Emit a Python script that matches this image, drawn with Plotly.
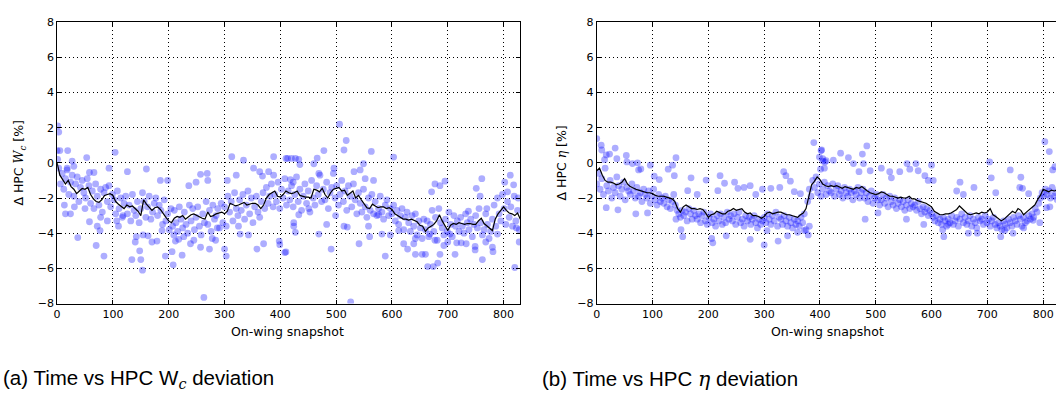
import plotly.graph_objects as go

W, H = 1056, 394

# ---------------- data: (a) HPC Wc deviation ----------------
a_line_x = list(range(0, 831, 5))
a_line_y = [0.0, -0.7, -0.95, -1.2, -1.0, -1.35, -1.5, -1.75, -1.6, -1.45,
            -1.5, -1.4, -1.8, -2.05, -2.2, -2.25, -2.1, -1.85, -1.8, -1.75,
            -1.85, -2.2, -2.35, -2.45, -2.6, -2.4, -2.5, -2.45, -2.6, -2.75,
            -3.0, -2.1, -2.35, -2.5, -2.7, -2.55, -2.5, -2.65, -2.9, -3.1,
            -3.3, -3.4, -3.15, -3.05, -3.1, -3.0, -3.2, -3.05, -2.95, -2.9,
            -3.0, -3.1, -3.15, -3.2, -2.8, -3.05, -3.0, -2.9, -2.85, -2.8,
            -2.9, -2.75, -2.3, -2.4, -2.45, -2.4, -2.3, -2.25, -2.4, -2.35,
            -2.3, -2.3, -2.4, -2.6, -2.4, -2.0, -1.8, -1.7, -1.6, -1.9,
            -1.95, -1.8, -1.6, -1.7, -1.75, -1.7, -1.6, -1.85, -1.9, -1.95,
            -1.95, -2.0, -1.5, -1.55, -1.65, -1.45, -1.8, -2.0, -1.7, -1.5,
            -1.45, -1.4, -1.6, -1.55, -1.85, -1.7, -1.6, -2.0, -1.85, -2.1,
            -2.3, -2.55, -2.6, -2.35, -2.45, -2.55, -2.5, -2.5, -2.6, -2.55,
            -2.65, -2.9, -3.0, -3.1, -3.2, -3.2, -3.25, -3.2, -3.3, -3.35,
            -3.55, -3.6, -3.9, -3.7, -3.6, -3.5, -3.3, -2.95, -3.3, -3.6,
            -3.85, -3.55, -3.45, -3.5, -3.4, -3.45, -3.5, -3.45, -3.45, -3.5,
            -3.5, -3.3, -3.15, -3.45, -3.6, -3.75, -3.85, -3.2, -2.9, -2.7,
            -2.5, -2.7, -2.85, -2.9, -3.0, -2.85, -3.2]

a_pts_x = list(range(0, 829, 3))
a_pts_y = [0.7, -0.3, -1.2, -0.6, -1.5, -0.9, -0.4, -1.8, -1.1, -0.7,
           -1.9, -1.2, -0.8, -2.2, -1.4, -1.0, -1.7, -2.0, -0.9, -1.3,
           -2.3, -1.6, -2.6, -1.2, -1.9, -2.4, -1.5, -2.8, -1.7, -1.4,
           -2.2, -1.3, -2.5, -1.8, -2.1, -2.9, -1.6, -2.6, -2.0, -3.1,
           -2.3, -1.9, -2.9, -2.4, -3.3, -1.8, -2.7, -3.0, -2.2, -3.4,
           -2.6, -1.7, -2.2, -3.1, -2.5, -1.9, -3.2, -2.8, -2.3, -2.0,
           -3.0, -2.4, -2.7, -3.5, -2.1, -3.3, -2.9, -3.8, -2.6, -3.6,
           -2.7, -3.4, -3.9, -2.5, -3.2, -3.7, -2.8, -3.5, -4.0, -2.4,
           -3.3, -2.6, -3.8, -3.1, -2.5, -3.6, -4.1, -2.9, -3.4, -2.2,
           -3.5, -2.7, -3.9, -2.4, -3.2, -3.0, -2.6, -3.7, -2.3, -3.4,
           -2.5, -3.6, -1.9, -2.8, -2.2, -3.3, -1.7, -2.6, -3.0, -2.1,
           -2.7, -1.8, -3.2, -2.4, -1.6, -2.9, -2.0, -3.4, -2.5, -1.9,
           -2.8, -3.1, -2.2, -1.7, -2.6, -1.4, -2.3, -1.9, -1.2, -2.5,
           -1.8, -2.2, -1.1, -2.6, -1.5, -2.0, -0.9, -2.4, -1.6, -2.1,
           -1.3, -2.5, -1.8, -0.8, -2.2, -1.5, -2.7, -1.9, -1.2, -2.3,
           -1.6, -2.8, -1.0, -2.0, -2.4, -1.3, -1.8, -0.7, -2.2, -1.5,
           -2.1, -1.1, -2.6, -1.7, -1.4, -0.6, -2.0, -1.3, -2.4, -1.8,
           -1.0, -2.2, -1.6, -2.7, -1.3, -1.9, -2.5, -1.2, -2.1, -2.9,
           -1.7, -2.3, -2.8, -1.5, -2.5, -3.1, -2.0, -2.7, -1.8, -2.9,
           -2.2, -3.0, -2.6, -1.9, -2.8, -3.2, -2.4, -2.1, -3.0, -2.6,
           -2.9, -2.4, -3.3, -2.7, -3.5, -3.0, -2.6, -3.8, -3.1, -2.8,
           -3.4, -3.9, -3.0, -3.6, -2.9, -4.1, -3.3, -3.7, -4.3, -3.2,
           -3.8, -3.3, -4.2, -3.5, -2.7, -3.9, -3.1, -4.4, -2.6, -3.4,
           -3.7, -4.1, -3.2, -3.9, -2.8, -3.5, -4.2, -3.0, -3.6, -3.3,
           -3.9, -3.1, -3.6, -4.0, -2.9, -3.4, -3.8, -3.2, -4.2, -3.5,
           -3.0, -3.7, -2.6, -3.4, -4.1, -3.8, -2.9, -3.5, -4.3, -3.9,
           -3.2, -2.4, -3.6, -2.0, -2.9, -3.3, -1.8, -2.6, -3.5, -2.2,
           -3.1, -2.5, -3.6, -1.9, -3.3, -2.7, -3.8]

a_out_x = [1, 3, 5, 19, 1, 27, 53, 104, 58, 66, 18, 30, 13, 15, 24, 31, 37, 50, 58, 70,
           72, 77, 84, 78, 90, 93, 107, 110, 118, 126, 140, 134, 142, 150, 148, 153, 154, 160, 163, 170,
           179, 188, 194, 185, 198, 206, 208, 209, 212, 218, 224, 227, 236, 239, 245, 249, 257, 257, 263, 269,
           270, 273, 278, 284, 287, 300, 303, 305, 313, 321, 325, 328, 334, 343, 352, 358, 363, 368, 370, 379,
           388, 388, 398, 399, 408, 410, 420, 424, 423,
           506, 518, 514, 563, 478, 603, 549, 413, 427, 433, 435, 460, 466, 469, 418, 496, 532, 543, 552, 567,
           410, 427, 424, 433, 451, 469, 483, 491, 499, 514, 520, 526, 541, 558, 560, 576, 582, 588, 597, 612,
           621, 628, 639, 642, 642, 654, 660, 664, 674, 682, 668, 677, 686, 693, 695, 686, 677, 671, 700, 704,
           713, 716, 724, 733, 737, 749, 749, 751, 758, 761, 762, 770, 768, 780, 781, 789, 802, 807, 812, 818,
           820, 828, 823, 826]
a_out_y = [2.1, 1.75, 0.7, 0.7, 0.2, 0.1, 0.3, 0.6, -0.55, -0.55, -0.3, -0.2, -2.4, -2.9, -2.9, -2.5, -4.25, -2.6, -3.35, -4.7,
           -3.6, -3.85, -5.3, -3.1, -3.3, -0.3, -3.3, -3.6, -3.0, -0.5, -4.5, -5.5, -4.2, -5.5, -5.0, -6.1, -4.1, -0.35, -4.15, -4.5,
           -4.45, -3.85, -5.3, -1.0, -1.0, -5.05, -5.8, -4.1, -4.45, -4.35, -5.25, -4.2, -1.3, -4.6, -4.4, -1.1, -0.65, -4.8, -7.65, -0.6,
           -1.0, -4.9, -4.3, -4.4, -3.7, -4.9, -5.3, -1.0, 0.35, -0.7, -3.6, -4.05, 0.15, -4.1, -0.3, -4.9, -0.5, -0.75, -4.6, -0.5,
           0.35, -0.7, -4.45, -4.65, -5.1, 0.25, 0.25, -3.6, -1.1,
           2.2, 1.27, 0.73, 0.65, 0.7, 0.33, -0.05, 0.25, 0.25, 0.2, -0.1, -0.05, 0.27, -0.6, -0.95, -0.3, -0.5, -0.4, -0.9, -1.0,
           -5.07, -3.95, -3.4, -2.95, -2.6, -4.05, -3.5, -4.9, -3.0, -3.6, -3.65, -7.9, -4.6, -3.6, -4.2, -2.95, -4.05, -5.3, -4.1, -3.85,
           -4.6, -4.9, -4.6, -4.3, -5.2, -5.2, -5.2, -5.9, -5.9, -5.7, -4.05, -4.4, -5.2, -4.7, -1.04, -1.3, -1.2, -1.65, -4.5, -4.05,
           -5.2, -4.55, -4.55, -4.6, -2.75, -4.75, -4.95, -1.45, -1.9, -0.9, -5.5, -2.6, -4.5, -4.8, -5.05, -4.05, -1.1, -1.65, -0.7, -1.25,
           -5.95, -4.5, -3.7, -2.0]

# ---------------- data: (b) HPC eta deviation ----------------
b_line_x = list(range(0, 831, 5))
b_line_y = [-0.45, -0.3, -0.7, -1.0, -1.1, -1.1, -1.15, -1.25, -1.2, -1.1,
            -0.9, -1.2, -1.35, -1.45, -1.5, -1.55, -1.6, -1.65, -1.7, -1.7,
            -1.75, -1.85, -1.9, -1.9, -1.9, -1.95, -2.0, -2.05, -2.2, -2.6,
            -2.8, -2.5, -2.4, -2.5, -2.6, -2.6, -2.65, -2.6, -2.65, -2.85,
            -3.1, -2.95, -2.9, -2.75, -2.85, -2.9, -2.9, -2.75, -2.7, -2.6,
            -2.7, -2.65, -2.6, -2.8, -2.9, -2.85, -3.0, -3.0, -3.05, -3.15,
            -3.05, -2.85, -2.8, -2.9, -2.85, -2.8, -2.8, -2.9, -2.95, -2.95,
            -3.0, -3.05, -3.1, -2.95, -2.85, -2.6, -1.9, -1.25, -1.05, -0.8,
            -0.95, -1.2, -1.3, -1.35, -1.3, -1.35, -1.3, -1.4, -1.45, -1.35,
            -1.4, -1.45, -1.5, -1.4, -1.45, -1.35, -1.5, -1.6, -1.7, -1.75,
            -1.8, -1.75, -1.65, -1.7, -1.8, -1.9, -1.9, -1.95, -2.0, -1.95,
            -2.0, -2.0, -1.9, -2.05, -2.05, -2.15, -2.2, -2.25, -2.3, -2.4,
            -2.5, -2.75, -2.85, -2.95, -2.95, -2.9, -2.9, -2.85, -2.75, -2.65,
            -2.45, -2.6, -2.8, -2.9, -2.95, -2.9, -2.85, -2.9, -2.8, -2.85,
            -2.8, -2.6, -2.95, -3.05, -3.15, -3.3, -3.2, -3.05, -2.9, -2.75,
            -2.85, -2.6, -2.7, -2.95, -2.8, -2.65, -2.55, -2.4, -2.1, -1.85,
            -1.5, -1.6, -1.65, -1.55, -1.6, -1.55, -1.6]

b_pts_x = list(range(0, 829, 3))
b_pts_y = [-1.2, -0.6, -1.5, -0.9, -1.8, -0.3, -1.3, -1.6, -1.0, -2.0,
           -1.4, -1.7, -0.8, -1.3, -1.9, -1.5, -1.1, -2.1, -1.4, -1.6,
           -1.8, -1.2, -1.6, -2.0, -1.4, -1.9, -1.7, -2.2, -1.5, -1.8,
           -2.0, -1.6, -2.3, -1.9, -1.5, -2.1, -2.4, -1.8, -2.2, -2.0,
           -2.3, -1.9, -2.5, -2.1, -2.6, -2.2, -1.8, -2.4, -2.7, -2.9,
           -3.1, -2.7, -3.0, -2.8, -3.3, -2.6, -2.9, -3.2, -2.7, -3.0,
           -3.2, -2.9, -3.4, -3.0, -2.8, -3.3, -3.5, -3.1, -2.9, -3.4,
           -3.2, -3.6, -3.0, -3.3, -2.9, -3.5, -3.1, -3.4, -2.8, -3.2,
           -3.0, -3.3, -2.9, -3.5, -3.1, -2.8, -3.4, -3.2, -3.6, -3.0,
           -3.3, -3.1, -3.5, -3.2, -3.0, -3.4, -3.7, -3.2, -3.5, -3.3,
           -3.1, -3.4, -2.9, -3.2, -3.5, -3.0, -3.3, -2.8, -3.6, -3.1,
           -3.2, -3.5, -3.0, -3.3, -3.6, -3.1, -3.4, -3.7, -3.2, -3.5,
           -3.3, -3.6, -3.1, -3.4, -2.9, -3.8, -2.2, -1.5, -1.9, -1.0,
           -1.4, -0.8, -1.7, -1.2, -1.9, -1.5, -1.1, -1.8, -1.3, -1.6,
           -1.7, -1.2, -1.9, -1.5, -1.3, -1.8, -1.6, -2.0, -1.4, -1.7,
           -1.9, -1.5, -1.7, -2.1, -1.6, -1.8, -1.4, -2.0, -1.7, -1.5,
           -2.0, -1.7, -2.2, -1.9, -1.6, -2.3, -2.0, -1.8, -2.1, -2.4,
           -2.1, -1.8, -2.3, -2.0, -2.5, -1.9, -2.2, -2.4, -2.0, -2.6,
           -2.3, -2.1, -2.5, -2.2, -2.7, -2.4, -2.1, -2.6, -2.3, -2.5,
           -2.4, -2.7, -2.2, -2.6, -2.9, -2.5, -2.8, -2.6, -3.0, -2.7,
           -2.9, -3.1, -3.3, -3.0, -3.4, -3.2, -3.5, -3.1, -3.3, -3.6,
           -3.2, -3.4, -3.0, -3.5, -3.3, -3.1, -3.6, -3.2, -2.9, -3.4,
           -3.1, -3.5, -3.3, -3.0, -3.6, -3.2, -3.4, -3.7, -3.1, -3.3,
           -3.2, -3.5, -3.0, -3.4, -3.2, -3.6, -3.3, -3.1, -3.5, -3.7,
           -3.4, -3.6, -3.8, -3.3, -3.5, -3.7, -3.2, -3.4, -3.6, -3.1,
           -3.3, -3.5, -3.0, -3.2, -3.6, -3.1, -3.4, -3.3, -3.0, -3.2,
           -2.9, -3.1, -2.6, -2.8, -2.3, -2.0, -1.7, -1.9, -1.5, -1.8,
           -1.6, -2.0, -1.4, -1.9, -1.7, -2.1, -1.5]

b_out_x = [0, 8, 9, 14, 17, 23, 33, 36, 53, 54, 64, 73, 75, 79, 96, 103, 112, 128, 136, 142,
           139, 169, 163, 180, 196, 217, 221, 229, 247, 253, 264, 275, 285, 297, 312, 328, 335, 339, 347, 354,
           365, 17, 38, 70, 91, 151, 154, 142, 206, 208, 232, 275, 300, 305, 325, 342, 360, 372, 379, 381,
           389, 399, 402, 405, 411, 408, 401,
           403, 405, 409, 424, 437, 451, 460, 476, 484, 478, 470, 490, 510, 525, 528, 543, 556, 561, 572, 576,
           600, 588, 594, 603, 481, 504, 555, 586, 620, 622, 630, 645, 651, 657, 676, 666, 682, 704, 707, 715,
           724, 731, 741, 746, 758, 760, 763, 765, 774, 782, 794, 803, 811, 817, 821, 812, 806]
b_out_y = [1.38, 1.0, 0.73, 0.18, 0.45, 0.5, 0.84, 0.24, 0.42, 0.05, -0.04, 0.0, -0.4, -0.35, -0.13, -0.76, -0.95, -0.36, -0.13, 0.29,
           -0.73, -0.85, -1.58, -1.8, -0.98, -1.58, -0.73, -1.16, -1.1, -1.45, -1.4, -1.3, -1.8, -1.5, -1.45, -1.4, -0.5, -0.73, -1.04, -1.64,
           -1.75, -2.55, -2.67, -2.9, -2.85, -3.8, -4.2, -3.2, -4.3, -4.55, -4.15, -4.35, -4.67, -3.85, -4.45, -4.15, -3.95, -3.85, -4.1, -3.6,
           1.15, 0.33, 0.7, 0.1, 0.12, -0.3, -0.36,
           0.73, 0.24, 0.05, 0.15, 0.55, 0.3, -0.04, 0.5, 0.96, -0.04, -0.5, -0.45, -0.3, -0.5, -0.85, -0.5, -0.04, -0.36, -0.04, -0.45,
           -0.13, -0.73, -1.0, -1.0, -3.2, -2.85, -3.2, -3.5, -3.8, -4.2, -3.5, -1.6, -1.1, -1.8, -1.4, -4.0, -4.0, 0.05, -0.85, -1.7,
           -4.2, -3.85, -0.4, -4.0, -1.4, -0.82, -1.45, -3.7, -1.75, -3.27, -3.4, 1.2, 0.64, -0.4, -0.22, -2.5, -2.55]

x_ticks = [0, 100, 200, 300, 400, 500, 600, 700, 800]
y_ticks = [-8, -6, -4, -2, 0, 2, 4, 6, 8]

# ---------------- figure ----------------
pt_color = "rgba(0,0,255,0.32)"
fig = go.Figure()

def add_panel(xs, ys, ox, oy, lx, ly, xa, ya):
    fig.add_trace(go.Scatter(x=xs + ox, y=ys + oy, mode="markers",
                             marker=dict(size=6.8, color=pt_color, line=dict(width=0)),
                             xaxis=xa, yaxis=ya, showlegend=False, hoverinfo="skip"))
    fig.add_trace(go.Scatter(x=lx, y=ly, mode="lines",
                             line=dict(color="black", width=1.2),
                             xaxis=xa, yaxis=ya, showlegend=False))

add_panel(a_pts_x, a_pts_y, a_out_x, a_out_y, a_line_x, a_line_y, "x", "y")
add_panel(b_pts_x, b_pts_y, b_out_x, b_out_y, b_line_x, b_line_y, "x2", "y2")

tickfont = dict(family="DejaVu Sans", size=11, color="black")
y_top = 1 - 16.7 / H
y_bot = 1 - 307.7 / H

common_x = dict(tickvals=x_ticks, ticks="inside", ticklen=4, tickcolor="black",
                showline=True, linecolor="black", linewidth=1, mirror="ticks",
                showgrid=True, gridcolor="black", gridwidth=1, griddash="1px,3px",
                zeroline=False, tickfont=tickfont)
common_y = dict(tickvals=y_ticks, range=[-8, 8], ticks="inside", ticklen=4, tickcolor="black",
                showline=True, linecolor="black", linewidth=1,
                showgrid=True, gridcolor="black", gridwidth=1, griddash="1px,3px",
                zeroline=False, tickfont=tickfont)

fig.update_layout(
    width=W, height=H, margin=dict(l=0, r=0, t=0, b=0),
    paper_bgcolor="white", plot_bgcolor="white",
    xaxis=dict(domain=[53.3 / W, 518.3 / W], range=[0, 830], anchor="y", **common_x),
    yaxis=dict(domain=[y_bot, y_top], anchor="x", mirror="ticks", **common_y),
    xaxis2=dict(domain=[595.0 / W, 1.0], range=[0, 823], anchor="y2", **common_x),
    yaxis2=dict(domain=[y_bot, y_top], anchor="x2", mirror=False, **common_y),
)

lab = dict(family="DejaVu Sans", size=12.5, color="black")
cap = dict(family="Liberation Sans", size=20.5, color="black")
ann = [
    dict(text="On-wing snapshot", x=285 / W, y=1 - 337 / H, font=lab),
    dict(text="On-wing snapshot", x=827 / W, y=1 - 337 / H, font=lab),
    dict(text="Δ HPC <span style='font-family:DejaVu Serif'><i>W<sub>c</sub></i></span> [%]",
         x=16 / W, y=1 - 162 / H, textangle=-90, font=lab),
    dict(text="Δ HPC <span style='font-family:DejaVu Serif'><i>η</i></span> [%]",
         x=560 / W, y=1 - 162 / H, textangle=-90, font=lab),
]
for a in ann:
    fig.add_annotation(xref="paper", yref="paper", showarrow=False,
                       xanchor="center", yanchor="middle", **a)

fig.add_annotation(xref="paper", yref="paper", showarrow=False, xanchor="left", yanchor="middle",
                   x=-3 / W, y=1 - 386 / H, font=cap,
                   text="(a) Time vs HPC W<sub><span style='font-family:DejaVu Serif'><i>c</i></span></sub> deviation")
fig.add_annotation(xref="paper", yref="paper", showarrow=False, xanchor="left", yanchor="middle",
                   x=538 / W, y=1 - 386 / H, font=cap,
                   text="(b) Time vs HPC <span style='font-family:DejaVu Serif'><i>η</i></span> deviation")

fig.write_html("out.html")
